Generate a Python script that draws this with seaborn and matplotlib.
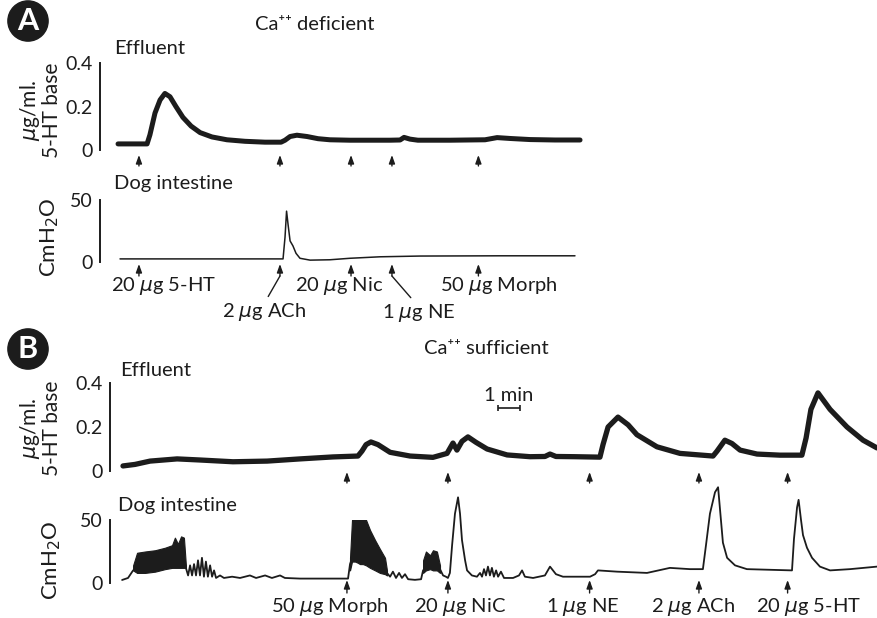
import matplotlib
matplotlib.use("Agg")
import matplotlib.pyplot as plt
import seaborn as sns

sns.set_style("white")
plt.rcParams['font.family'] = ['Lato', 'DejaVu Sans']
plt.rcParams['mathtext.fontset'] = 'dejavusans'

W, H = 877, 618
INK = '#1c1c1c'
PT = 0.72  # points per pixel at dpi 100
FS = 14.5

# ---- data (time in min, 5-HT in ug/ml, pressure in cm H2O) ----
# A: Ca++ deficient
a_eff_t = [0.82, 2.14, 2.27, 2.5, 2.73, 2.95, 3.18, 3.45, 3.77, 4.14,
           4.55, 5.09, 5.77, 6.59, 7.5, 8.23, 8.41, 8.64, 8.95, 9.41,
           9.91, 10.45, 11.36, 12.27, 13.18, 13.64, 13.82, 14.09, 14.45, 15.91,
           17.5, 18.05, 18.64, 19.55, 20.68, 21.82]
a_eff_v = [0.028, 0.028, 0.07, 0.17, 0.23, 0.26, 0.245, 0.2, 0.15, 0.11,
           0.08, 0.06, 0.047, 0.04, 0.036, 0.036, 0.045, 0.062, 0.068, 0.062,
           0.052, 0.047, 0.045, 0.045, 0.045, 0.046, 0.058, 0.05, 0.045, 0.045,
           0.047, 0.057, 0.053, 0.048, 0.046, 0.046]
a_int_t = [0.91, 4.55, 8.32, 8.41, 8.48, 8.55, 8.64, 8.77, 8.91, 9.09,
           9.55, 10.45, 11.36, 12.73, 14.55, 18.18, 21.59]
a_int_v = [2.5, 2.5, 2.5, 20, 41, 30, 17, 13, 7, 3,
           1.5, 1.8, 3, 4.2, 4.8, 5, 5]
a_dose_t = [1.77, 8.18, 11.41, 13.27, 17.2]
a_dose_lbl = ["20 $\\mu$g 5-HT", "2 $\\mu$g ACh", "20 $\\mu$g Nic",
              "1 $\\mu$g NE", "50 $\\mu$g Morph"]

# B: Ca++ sufficient
b_eff_t = [0.59, 1.14, 1.82, 3.05, 4.09, 5.59, 7.14, 8.64, 10.14, 11.27,
           11.45, 11.64, 11.86, 12.18, 12.73, 13.64, 14.68, 15.32, 15.59, 15.77,
           16.0, 16.27, 16.64, 17.14, 18.05, 19.09, 19.77, 20.0, 20.27, 21.14,
           22.27, 22.41, 22.64, 23.09, 23.55, 23.95, 24.86, 25.91, 27.41, 27.59,
           27.95, 28.27, 28.64, 29.41, 30.45, 31.45, 31.64, 31.86, 32.18, 32.73,
           33.5, 34.23, 34.86]
b_eff_v = [0.023, 0.03, 0.045, 0.055, 0.05, 0.042, 0.045, 0.055, 0.064, 0.068,
           0.09, 0.12, 0.132, 0.12, 0.085, 0.068, 0.062, 0.08, 0.127, 0.095,
           0.135, 0.155, 0.13, 0.1, 0.073, 0.065, 0.066, 0.077, 0.066, 0.065,
           0.063, 0.12, 0.2, 0.245, 0.21, 0.165, 0.11, 0.08, 0.068, 0.09,
           0.14, 0.125, 0.095, 0.077, 0.072, 0.072, 0.15, 0.28, 0.355, 0.28,
           0.2, 0.14, 0.105]
b_int_t = [0.55, 0.82, 1.05, 1.59, 2.5, 3.36,
           3.45, 3.55, 3.64, 3.73, 3.82, 3.91, 4.0, 4.09, 4.18, 4.27,
           4.36, 4.45, 4.55, 4.64, 4.73, 4.82, 5.0, 5.18, 5.55, 5.91,
           6.36, 6.64, 7.05, 7.36, 7.73, 7.95, 8.64, 10.0, 10.82, 10.91,
           11.3, 12.27, 12.59,
           12.73, 12.86, 13.0, 13.14, 13.27, 13.41, 13.55, 13.86, 14.14, 14.23,
           14.6, 15.0,
           15.14, 15.27, 15.36, 15.45, 15.55, 15.68, 15.82, 15.91, 16.0, 16.14,
           16.23, 16.45, 16.68, 16.82, 16.91, 17.0, 17.09, 17.18, 17.27, 17.36,
           17.45, 17.55, 17.64, 17.77, 17.91, 18.32, 18.59, 18.73, 18.86, 19.23,
           19.77, 20.0, 20.27, 20.59, 21.82, 22.05, 22.18, 23.05, 24.41, 25.45,
           26.36, 26.95, 27.09, 27.27, 27.5, 27.64, 27.73, 27.86, 28.05, 28.41,
           28.95, 31.0, 31.09, 31.23, 31.3, 31.41, 31.5, 31.68, 31.91, 32.27,
           32.73, 33.64, 34.86]
b_int_v = [2.4, 4, 10, 16, 19, 20,
           12, 6, 14, 6, 15, 6, 18, 6, 20, 5,
           17, 5, 14, 5, 10, 4, 6, 4, 5, 4,
           6, 4, 6, 4, 6, 4, 3.5, 3.5, 3.5, 15,
           35, 17, 8,
           5, 9, 4, 8, 4, 7, 3, 2.5, 3, 10,
           17, 11,
           6, 5, 4, 8, 30, 55, 68, 55, 34, 18,
           10, 6, 5, 8, 5, 11, 6, 13, 6, 12,
           5, 10, 5, 9, 4, 4, 6, 10, 5, 4,
           6, 13, 7, 5, 5, 7, 10, 9, 8, 12,
           11, 11, 30, 55, 72, 76, 58, 32, 20, 14,
           11, 10, 35, 60, 66, 50, 38, 28, 20, 13,
           10, 11, 13]
# dense contraction bursts (envelope low / high)
burst1_t = [1.05, 1.23, 1.59, 2.05, 2.5, 2.82, 2.95, 3.09, 3.23, 3.36, 3.45]
burst1_lo = [10, 8, 8, 9, 11, 12, 12, 12, 12, 12, 12]
burst1_hi = [14, 24, 25, 26, 28, 30, 36, 31, 37, 36, 14]
burst2_t = [10.91, 11.0, 11.14, 11.27, 11.36, 11.5, 11.64, 11.82, 12.05, 12.27, 12.5, 12.59]
burst2_lo = [10, 17, 17, 16, 15, 15, 14, 12, 10, 8, 7, 6]
burst2_hi = [20, 50, 55, 58, 54, 58, 50, 42, 34, 27, 20, 10]
burst3_t = [14.23, 14.36, 14.55, 14.68, 14.86, 15.0]
burst3_lo = [8, 10, 11, 10, 10, 8]
burst3_hi = [18, 25, 22, 26, 25, 14]
b_dose_t = [10.77, 15.36, 21.8, 26.77, 30.8]
b_dose_lbl = ["50 $\\mu$g Morph", "20 $\\mu$g NiC", "1 $\\mu$g NE",
              "2 $\\mu$g ACh", "20 $\\mu$g 5-HT"]

fig = plt.figure(figsize=(W / 100, H / 100), dpi=100)


def place(l, t, r, b):
    return fig.add_axes([l / W, 1 - b / H, (r - l) / W, (b - t) / H])


def bracket(ax, ymax, ticks, labels, xmax):
    ax.set_xlim(0, xmax)
    ax.set_ylim(0, ymax)
    sns.despine(ax=ax, bottom=True)
    ax.patch.set_alpha(0)
    ax.spines['left'].set_bounds(0, ymax)
    ax.spines['left'].set_linewidth(1.4)
    ax.spines['left'].set_color(INK)
    ax.set_xticks([])
    ax.set_yticks(ticks, labels)
    ax.tick_params(axis='y', direction='in', length=6, width=1.4, pad=5,
                   labelsize=14, colors=INK)
    ax.set_xlabel('')
    ax.set_ylabel('')


def arrows(ax, times, head_px, tail_px, h_px):
    tr = ax.get_xaxis_transform()
    for t in times:
        ax.annotate("", xy=(t, -head_px / h_px), xycoords=tr,
                    xytext=(t, -tail_px / h_px), textcoords=tr,
                    arrowprops=dict(arrowstyle="-|>,head_length=0.5,head_width=0.18",
                                    color=INK, lw=1.0, shrinkA=0, shrinkB=0),
                    annotation_clip=False)


def label(ax, t, text, dx, dy, ha='left'):
    ax.annotate(text, xy=(t, 0), xycoords=ax.get_xaxis_transform(),
                xytext=(dx * PT, -dy * PT), textcoords='offset points',
                ha=ha, va='center', fontsize=FS, color=INK, annotation_clip=False)


def trace(ax, t, v, lw):
    sns.lineplot(x=t, y=v, ax=ax, color=INK, lw=lw, estimator=None, sort=False)
    for line in ax.lines:
        line.set_clip_on(False)


# ---- panel A ----
ax1 = place(100, 63, 877, 150)
trace(ax1, a_eff_t, a_eff_v, 3.6)
bracket(ax1, 0.4, [0, 0.2, 0.4], ["0", "0.2", "0.4"], 777 / 22)
arrows(ax1, a_dose_t, 5, 16, 87)

ax2 = place(100, 200, 877, 262)
trace(ax2, a_int_t, a_int_v, 1.1)
bracket(ax2, 50, [0, 50], ["0", "50"], 777 / 22)
arrows(ax2, a_dose_t, 2, 14, 62)
label(ax2, a_dose_t[0], a_dose_lbl[0], -28, 24)
label(ax2, a_dose_t[2], a_dose_lbl[2], -56, 24)
label(ax2, a_dose_t[4], a_dose_lbl[4], -38, 24)
tr2 = ax2.get_xaxis_transform()
ax2.annotate(a_dose_lbl[1], xy=(a_dose_t[1], -14 / 62), xycoords=tr2,
             xytext=(-16 * PT, -36 * PT), textcoords='offset points',
             ha='center', va='center', fontsize=FS, color=INK,
             arrowprops=dict(arrowstyle='-', relpos=(0.52, 1.0), color=INK,
                             lw=1.0, shrinkA=1, shrinkB=0),
             annotation_clip=False)
ax2.annotate(a_dose_lbl[3], xy=(a_dose_t[3], -14 / 62), xycoords=tr2,
             xytext=(27 * PT, -37 * PT), textcoords='offset points',
             ha='center', va='center', fontsize=FS, color=INK,
             arrowprops=dict(arrowstyle='-', relpos=(0.44, 1.0), color=INK,
                             lw=1.0, shrinkA=1, shrinkB=0),
             annotation_clip=False)

# ---- panel B ----
ax3 = place(110, 383, 877, 471)
trace(ax3, b_eff_t, b_eff_v, 3.8)
bracket(ax3, 0.4, [0, 0.2, 0.4], ["0", "0.2", "0.4"], 767 / 22)
arrows(ax3, b_dose_t, 1, 12, 88)
ax3.errorbar(x=[18.14], y=[0.286], xerr=[0.5], fmt='none', ecolor=INK,
             elinewidth=1.2, capsize=2.5, capthick=1.2, clip_on=False)
ax3.text(18.14, 0.345, "1 min", ha='center', va='center', fontsize=FS, color=INK)

ax4 = place(110, 520, 877, 583)
for bt, lo, hi in [(burst1_t, burst1_lo, burst1_hi),
                   (burst2_t, burst2_lo, burst2_hi),
                   (burst3_t, burst3_lo, burst3_hi)]:
    ax4.fill_between(bt, lo, hi, color=INK, lw=0.8, edgecolor=INK)
trace(ax4, b_int_t, b_int_v, 1.3)
bracket(ax4, 50, [0, 50], ["0", "50"], 767 / 22)
arrows(ax4, b_dose_t, -3, 10, 63)
for t, txt, dx in zip(b_dose_t, b_dose_lbl, [-76, -34, -44, -48, -32]):
    label(ax4, t, txt, dx, 24)

# ---- headings and axis titles ----
def ftext(x, y, s, **kw):
    kw.setdefault('fontsize', FS)
    kw.setdefault('color', INK)
    fig.text(x / W, 1 - y / H, s, **kw)


ftext(28, 21, "A", fontsize=22, fontweight='bold', color='white', ha='center', va='center',
      bbox=dict(boxstyle='circle,pad=0.2', fc=INK, ec=INK))
ftext(28, 349, "B", fontsize=22, fontweight='bold', color='white', ha='center', va='center',
      bbox=dict(boxstyle='circle,pad=0.2', fc=INK, ec=INK))
ftext(315, 24, "Ca\u207a\u207a deficient", ha='center', va='center')
ftext(486, 349, "Ca\u207a\u207a sufficient", ha='center', va='center')
ftext(114, 48, "Effluent", ha='left', va='center')
ftext(114, 184, "Dog intestine", ha='left', va='center')
ftext(120, 370, "Effluent", ha='left', va='center')
ftext(118, 505, "Dog intestine", ha='left', va='center')
ftext(40, 110, "$\\mu$g/ml.\n5-HT base", fontsize=15, rotation=90, ha='center',
      va='center', linespacing=1.0)
ftext(40, 428, "$\\mu$g/ml.\n5-HT base", fontsize=15, rotation=90, ha='center',
      va='center', linespacing=1.0)
ftext(50, 237, "CmH$_2$O", fontsize=16, rotation=90, ha='center', va='center')
ftext(52, 560, "CmH$_2$O", fontsize=16, rotation=90, ha='center', va='center')

fig.savefig("out.png", dpi=100)
